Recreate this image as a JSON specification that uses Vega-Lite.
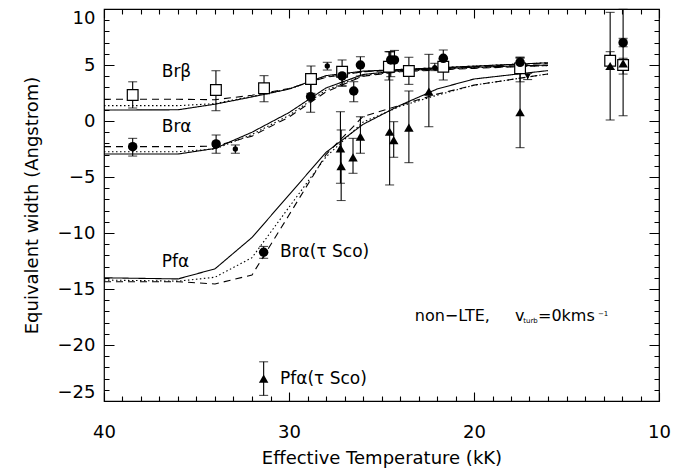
{
  "$schema": "https://vega.github.io/schema/vega-lite/v6.json",
  "width": 555,
  "height": 392,
  "autosize": "none",
  "padding": {"left": 104, "top": 9, "right": 29, "bottom": 69},
  "background": "white",
  "config": {
    "view": {"stroke": "black", "strokeWidth": 1.2},
    "font": "DejaVu Sans",
    "axis": {"labelFont": "DejaVu Sans", "titleFont": "DejaVu Sans", "labelColor": "black", "titleColor": "black", "tickColor": "black", "titleFontWeight": "normal", "grid": false, "domain": false}
  },
  "datasets": {
    "models": [
      {"s": "Brb", "st": "solid", "T": 40, "EW": 0.98}, {"s": "Brb", "st": "solid", "T": 36, "EW": 1.0}, {"s": "Brb", "st": "solid", "T": 34, "EW": 1.5}, {"s": "Brb", "st": "solid", "T": 32, "EW": 2.15}, {"s": "Brb", "st": "solid", "T": 30, "EW": 2.85}, {"s": "Brb", "st": "solid", "T": 28, "EW": 4.05}, {"s": "Brb", "st": "solid", "T": 26, "EW": 4.45}, {"s": "Brb", "st": "solid", "T": 24, "EW": 4.6}, {"s": "Brb", "st": "solid", "T": 20, "EW": 4.9}, {"s": "Brb", "st": "solid", "T": 16, "EW": 5.2},
      {"s": "Brb", "st": "dotted", "T": 40, "EW": 1.37}, {"s": "Brb", "st": "dotted", "T": 36, "EW": 1.37}, {"s": "Brb", "st": "dotted", "T": 34, "EW": 1.55}, {"s": "Brb", "st": "dotted", "T": 32, "EW": 2.2}, {"s": "Brb", "st": "dotted", "T": 30, "EW": 2.85}, {"s": "Brb", "st": "dotted", "T": 28, "EW": 3.95}, {"s": "Brb", "st": "dotted", "T": 26, "EW": 4.4}, {"s": "Brb", "st": "dotted", "T": 24, "EW": 4.6}, {"s": "Brb", "st": "dotted", "T": 20, "EW": 4.9}, {"s": "Brb", "st": "dotted", "T": 16, "EW": 5.2},
      {"s": "Brb", "st": "dashed", "T": 40, "EW": 1.94}, {"s": "Brb", "st": "dashed", "T": 36, "EW": 1.94}, {"s": "Brb", "st": "dashed", "T": 34, "EW": 1.9}, {"s": "Brb", "st": "dashed", "T": 32, "EW": 2.3}, {"s": "Brb", "st": "dashed", "T": 30, "EW": 2.9}, {"s": "Brb", "st": "dashed", "T": 28, "EW": 3.9}, {"s": "Brb", "st": "dashed", "T": 26, "EW": 4.4}, {"s": "Brb", "st": "dashed", "T": 24, "EW": 4.55}, {"s": "Brb", "st": "dashed", "T": 20, "EW": 4.85}, {"s": "Brb", "st": "dashed", "T": 16, "EW": 5.15},
      {"s": "Bra", "st": "solid", "T": 40, "EW": -2.95}, {"s": "Bra", "st": "solid", "T": 36, "EW": -2.95}, {"s": "Bra", "st": "solid", "T": 34, "EW": -2.45}, {"s": "Bra", "st": "solid", "T": 32, "EW": -1.0}, {"s": "Bra", "st": "solid", "T": 30, "EW": 0.75}, {"s": "Bra", "st": "solid", "T": 28, "EW": 2.95}, {"s": "Bra", "st": "solid", "T": 26, "EW": 4.15}, {"s": "Bra", "st": "solid", "T": 24, "EW": 4.5}, {"s": "Bra", "st": "solid", "T": 20, "EW": 4.8}, {"s": "Bra", "st": "solid", "T": 16, "EW": 5.0},
      {"s": "Bra", "st": "dotted", "T": 40, "EW": -2.74}, {"s": "Bra", "st": "dotted", "T": 36, "EW": -2.74}, {"s": "Bra", "st": "dotted", "T": 34, "EW": -2.5}, {"s": "Bra", "st": "dotted", "T": 32, "EW": -1.2}, {"s": "Bra", "st": "dotted", "T": 30, "EW": 0.5}, {"s": "Bra", "st": "dotted", "T": 28, "EW": 2.75}, {"s": "Bra", "st": "dotted", "T": 26, "EW": 4.05}, {"s": "Bra", "st": "dotted", "T": 24, "EW": 4.45}, {"s": "Bra", "st": "dotted", "T": 20, "EW": 4.75}, {"s": "Bra", "st": "dotted", "T": 16, "EW": 4.95},
      {"s": "Bra", "st": "dashed", "T": 40, "EW": -2.29}, {"s": "Bra", "st": "dashed", "T": 36, "EW": -2.29}, {"s": "Bra", "st": "dashed", "T": 34, "EW": -2.25}, {"s": "Bra", "st": "dashed", "T": 32, "EW": -1.35}, {"s": "Bra", "st": "dashed", "T": 30, "EW": 0.35}, {"s": "Bra", "st": "dashed", "T": 28, "EW": 2.6}, {"s": "Bra", "st": "dashed", "T": 26, "EW": 4.0}, {"s": "Bra", "st": "dashed", "T": 24, "EW": 4.4}, {"s": "Bra", "st": "dashed", "T": 20, "EW": 4.7}, {"s": "Bra", "st": "dashed", "T": 16, "EW": 4.95},
      {"s": "Pfa", "st": "solid", "T": 40, "EW": -14.0}, {"s": "Pfa", "st": "solid", "T": 36, "EW": -14.1}, {"s": "Pfa", "st": "solid", "T": 34, "EW": -13.2}, {"s": "Pfa", "st": "solid", "T": 32, "EW": -10.4}, {"s": "Pfa", "st": "solid", "T": 30, "EW": -6.6}, {"s": "Pfa", "st": "solid", "T": 28, "EW": -2.8}, {"s": "Pfa", "st": "solid", "T": 26, "EW": -0.3}, {"s": "Pfa", "st": "solid", "T": 24, "EW": 1.4}, {"s": "Pfa", "st": "solid", "T": 22, "EW": 2.85}, {"s": "Pfa", "st": "solid", "T": 20, "EW": 3.75}, {"s": "Pfa", "st": "solid", "T": 16, "EW": 4.5},
      {"s": "Pfa", "st": "dotted", "T": 40, "EW": -14.2}, {"s": "Pfa", "st": "dotted", "T": 36, "EW": -14.3}, {"s": "Pfa", "st": "dotted", "T": 34, "EW": -13.95}, {"s": "Pfa", "st": "dotted", "T": 32, "EW": -12.2}, {"s": "Pfa", "st": "dotted", "T": 30, "EW": -7.7}, {"s": "Pfa", "st": "dotted", "T": 28, "EW": -3.2}, {"s": "Pfa", "st": "dotted", "T": 26, "EW": -0.1}, {"s": "Pfa", "st": "dotted", "T": 24, "EW": 1.3}, {"s": "Pfa", "st": "dotted", "T": 22, "EW": 2.3}, {"s": "Pfa", "st": "dotted", "T": 20, "EW": 3.2}, {"s": "Pfa", "st": "dotted", "T": 16, "EW": 4.2},
      {"s": "Pfa", "st": "dashed", "T": 40, "EW": -14.35}, {"s": "Pfa", "st": "dashed", "T": 36, "EW": -14.35}, {"s": "Pfa", "st": "dashed", "T": 34, "EW": -14.55}, {"s": "Pfa", "st": "dashed", "T": 32, "EW": -13.75}, {"s": "Pfa", "st": "dashed", "T": 30, "EW": -8.4}, {"s": "Pfa", "st": "dashed", "T": 28, "EW": -3.0}, {"s": "Pfa", "st": "dashed", "T": 26, "EW": 0.4}, {"s": "Pfa", "st": "dashed", "T": 24, "EW": 1.4}, {"s": "Pfa", "st": "dashed", "T": 22, "EW": 2.4}, {"s": "Pfa", "st": "dashed", "T": 20, "EW": 3.2}, {"s": "Pfa", "st": "dashed", "T": 16, "EW": 4.2}
    ],
    "obs": [
      {"k": "sq", "T": 38.45, "EW": 2.32, "lo": 1.16, "hi": 3.5},
      {"k": "sq", "T": 33.95, "EW": 2.77, "lo": 0.92, "hi": 4.49},
      {"k": "sq", "T": 31.35, "EW": 2.92, "lo": 1.72, "hi": 4.05},
      {"k": "sq", "T": 28.81, "EW": 3.75, "lo": 2.47, "hi": 4.91},
      {"k": "sq", "T": 27.13, "EW": 4.4, "lo": 3.1, "hi": 5.45},
      {"k": "sq", "T": 24.6, "EW": 4.85, "lo": 3.66, "hi": 6.19},
      {"k": "sq", "T": 23.52, "EW": 4.46, "lo": 3.27, "hi": 5.69},
      {"k": "sq", "T": 21.66, "EW": 4.85, "lo": 3.66, "hi": 5.5},
      {"k": "sq", "T": 17.51, "EW": 4.7, "lo": 3.5, "hi": 5.6},
      {"k": "sq", "T": 12.64, "EW": 5.38, "lo": 4.6, "hi": 6.19},
      {"k": "sq", "T": 11.94, "EW": 5.0, "lo": 4.19, "hi": 5.6},
      {"k": "ci", "T": 38.45, "EW": -2.29, "lo": -3.13, "hi": -1.55},
      {"k": "ci", "T": 33.94, "EW": -2.05, "lo": -2.88, "hi": -1.25},
      {"k": "ci", "T": 28.83, "EW": 2.17, "lo": 0.78, "hi": 3.37},
      {"k": "ci", "T": 27.13, "EW": 4.02, "lo": 3.15, "hi": 4.85},
      {"k": "ci", "T": 26.5, "EW": 2.68, "lo": 1.72, "hi": 3.51},
      {"k": "ci", "T": 26.14, "EW": 5.0, "lo": 4.02, "hi": 5.74},
      {"k": "ci", "T": 24.5, "EW": 5.45, "lo": 3.96, "hi": 6.19},
      {"k": "ci", "T": 24.3, "EW": 5.45, "lo": 4.5, "hi": 6.3},
      {"k": "ci", "T": 21.66, "EW": 5.6, "lo": 4.5, "hi": 6.34},
      {"k": "ci", "T": 17.51, "EW": 5.24, "lo": 4.3, "hi": 5.69},
      {"k": "ci", "T": 11.94, "EW": 6.99, "lo": 6.63, "hi": 7.38},
      {"k": "ci", "T": 31.37, "EW": -11.72, "lo": -12.26, "hi": -11.2},
      {"k": "cs", "T": 32.9, "EW": -2.5, "lo": -2.88, "hi": -2.14},
      {"k": "cs", "T": 27.93, "EW": 4.91, "lo": 4.55, "hi": 5.24},
      {"k": "cs", "T": 22.12, "EW": 4.76, "lo": 4.5, "hi": 5.15},
      {"k": "inv", "T": 17.1, "EW": 3.96, "lo": 3.7, "hi": 4.25},
      {"k": "tr", "T": 27.22, "EW": -2.44, "lo": -5.56, "hi": 0.83},
      {"k": "tr", "T": 27.18, "EW": -4.02, "lo": -7.1, "hi": -0.8},
      {"k": "tr", "T": 26.54, "EW": -3.24, "lo": -4.67, "hi": -1.55},
      {"k": "tr", "T": 26.14, "EW": -1.4, "lo": -2.88, "hi": 0.38},
      {"k": "tr", "T": 24.56, "EW": -0.96, "lo": -5.71, "hi": 6.19},
      {"k": "tr", "T": 24.34, "EW": -1.7, "lo": -3.24, "hi": -0.06},
      {"k": "tr", "T": 23.52, "EW": -0.6, "lo": -3.72, "hi": 2.68},
      {"k": "tr", "T": 22.44, "EW": 2.62, "lo": -0.51, "hi": 5.95},
      {"k": "tr", "T": 17.51, "EW": 0.78, "lo": -2.38, "hi": 5.69},
      {"k": "tr", "T": 12.64, "EW": 4.91, "lo": 0.09, "hi": 9.7},
      {"k": "tr", "T": 11.94, "EW": 5.15, "lo": 0.47, "hi": 9.97},
      {"k": "tr", "T": 31.37, "EW": -23.0, "lo": -24.5, "hi": -21.5}
    ],
    "labels": [
      {"t": "Brβ", "T": 36.88, "EW": 4.4},
      {"t": "Brα", "T": 36.88, "EW": -0.55},
      {"t": "Pfα", "T": 36.88, "EW": -12.55},
      {"t": "Brα(τ Sco)", "T": 30.49, "EW": -11.7},
      {"t": "Pfα(τ Sco)", "T": 30.49, "EW": -23.0}
    ],
    "note": [
      {"t": "non−LTE,", "T": 23.2, "EW": -17.88},
      {"t": "v", "T": 17.78, "EW": -17.88},
      {"t": "=0kms", "T": 16.54, "EW": -17.88}
    ],
    "noteSmall": [
      {"t": "turb", "T": 17.34, "EW": -18.0},
      {"t": "−1", "T": 13.3, "EW": -17.45}
    ]
  },
  "resolve": {"axis": {"x": "independent", "y": "independent"}},
  "layer": [
    {
      "data": {"name": "models"},
      "mark": {"type": "line", "color": "black", "strokeWidth": 1.1},
      "encoding": {
        "x": {"field": "T", "type": "quantitative", "scale": {"domain": [10, 40], "reverse": true, "nice": false, "zero": false},
          "axis": {"orient": "bottom", "values": [40, 30, 20, 10], "ticks": false, "labelFontSize": 18, "labelPadding": 22, "labelFlush": false, "labelOverlap": false, "title": "Effective Temperature (kK)", "titleFontSize": 18, "titlePadding": 8}},
        "y": {"field": "EW", "type": "quantitative", "scale": {"domain": [-25, 10], "nice": false, "zero": false},
          "axis": {"orient": "left", "values": [10, 5, 0, -5, -10, -15, -20, -25], "ticks": false, "labelFontSize": 18, "labelPadding": 9, "labelFlush": true, "labelOverlap": false, "title": "Equivalent width (Angstrom)", "titleFontSize": 18, "titlePadding": 16}},
        "detail": {"field": "s"},
        "strokeDash": {"field": "st", "type": "nominal", "scale": {"domain": ["solid", "dotted", "dashed"], "range": [[1, 0], [1.5, 2.5], [7, 5]]}, "legend": null}
      }
    },
    {
      "data": {"name": "obs"},
      "mark": {"type": "rule", "color": "black", "strokeWidth": 1.1},
      "encoding": {
        "x": {"field": "T", "type": "quantitative",
          "axis": {"orient": "bottom", "values": [40, 30, 20, 10], "labels": false, "ticks": false, "title": null, "grid": true, "gridColor": "black", "gridOpacity": 1, "gridWidth": 1.1, "gridDash": [9, 374]}},
        "y": {"field": "lo", "type": "quantitative",
          "axis": {"orient": "left", "values": [10, 5, 0, -5, -10, -15, -20, -25], "labels": false, "ticks": false, "title": null, "grid": true, "gridColor": "black", "gridOpacity": 1, "gridWidth": 1.1, "gridDash": [10, 535]}},
        "y2": {"field": "hi"}
      }
    },
    {
      "data": {"name": "obs"},
      "transform": [{"fold": ["lo", "hi"], "as": ["end", "v"]}],
      "mark": {"type": "tick", "orient": "horizontal", "color": "black", "size": 9, "thickness": 1.1},
      "encoding": {
        "x": {"field": "T", "type": "quantitative",
          "axis": {"orient": "bottom", "values": [11,12,13,14,15,16,17,18,19,21,22,23,24,25,26,27,28,29,31,32,33,34,35,36,37,38,39], "labels": false, "ticks": false, "title": null, "grid": true, "gridColor": "black", "gridOpacity": 1, "gridWidth": 1.1, "gridDash": [5, 382]}},
        "y": {"field": "v", "type": "quantitative",
          "axis": {"orient": "left", "values": [-24,-23,-22,-21,-19,-18,-17,-16,-14,-13,-12,-11,-9,-8,-7,-6,-4,-3,-2,-1,1,2,3,4,6,7,8,9], "labels": false, "ticks": false, "title": null, "grid": true, "gridColor": "black", "gridOpacity": 1, "gridWidth": 1.1, "gridDash": [5, 545]}}
      }
    },
    {
      "data": {"name": "obs"},
      "transform": [{"filter": "datum.k === 'sq'"}],
      "mark": {"type": "point", "shape": "square", "filled": true, "fill": "white", "stroke": "black", "strokeWidth": 1.2, "size": 115, "opacity": 1},
      "encoding": {
        "x": {"field": "T", "type": "quantitative", "axis": null},
        "y": {"field": "EW", "type": "quantitative", "axis": null}
      }
    },
    {
      "data": {"name": "obs"},
      "transform": [{"filter": "datum.k === 'ci'"}],
      "mark": {"type": "point", "shape": "circle", "filled": true, "color": "black", "size": 90, "opacity": 1},
      "encoding": {
        "x": {"field": "T", "type": "quantitative", "axis": null},
        "y": {"field": "EW", "type": "quantitative", "axis": null}
      }
    },
    {
      "data": {"name": "obs"},
      "transform": [{"filter": "datum.k === 'cs'"}],
      "mark": {"type": "point", "shape": "circle", "filled": true, "color": "black", "size": 28, "opacity": 1},
      "encoding": {
        "x": {"field": "T", "type": "quantitative", "axis": null},
        "y": {"field": "EW", "type": "quantitative", "axis": null}
      }
    },
    {
      "data": {"name": "obs"},
      "transform": [{"filter": "datum.k === 'inv'"}],
      "mark": {"type": "point", "shape": "triangle-down", "filled": true, "color": "black", "size": 35, "opacity": 1},
      "encoding": {
        "x": {"field": "T", "type": "quantitative", "axis": null},
        "y": {"field": "EW", "type": "quantitative", "axis": null}
      }
    },
    {
      "data": {"name": "obs"},
      "transform": [{"filter": "datum.k === 'tr'"}],
      "mark": {"type": "point", "shape": "triangle-up", "filled": true, "color": "black", "size": 90, "opacity": 1},
      "encoding": {
        "x": {"field": "T", "type": "quantitative", "axis": null},
        "y": {"field": "EW", "type": "quantitative", "axis": null}
      }
    },
    {
      "data": {"name": "labels"},
      "mark": {"type": "text", "align": "left", "baseline": "middle", "font": "DejaVu Sans", "fontSize": 17, "color": "black"},
      "encoding": {
        "x": {"field": "T", "type": "quantitative", "axis": null},
        "y": {"field": "EW", "type": "quantitative", "axis": null},
        "text": {"field": "t"}
      }
    },
    {
      "data": {"name": "note"},
      "mark": {"type": "text", "align": "left", "baseline": "alphabetic", "font": "DejaVu Sans", "fontSize": 16, "color": "black"},
      "encoding": {
        "x": {"field": "T", "type": "quantitative", "axis": null},
        "y": {"field": "EW", "type": "quantitative", "axis": null},
        "text": {"field": "t"}
      }
    },
    {
      "data": {"name": "noteSmall"},
      "mark": {"type": "text", "align": "left", "baseline": "alphabetic", "font": "DejaVu Sans", "fontSize": 7, "color": "black"},
      "encoding": {
        "x": {"field": "T", "type": "quantitative", "axis": null},
        "y": {"field": "EW", "type": "quantitative", "axis": null},
        "text": {"field": "t"}
      }
    }
  ]
}
